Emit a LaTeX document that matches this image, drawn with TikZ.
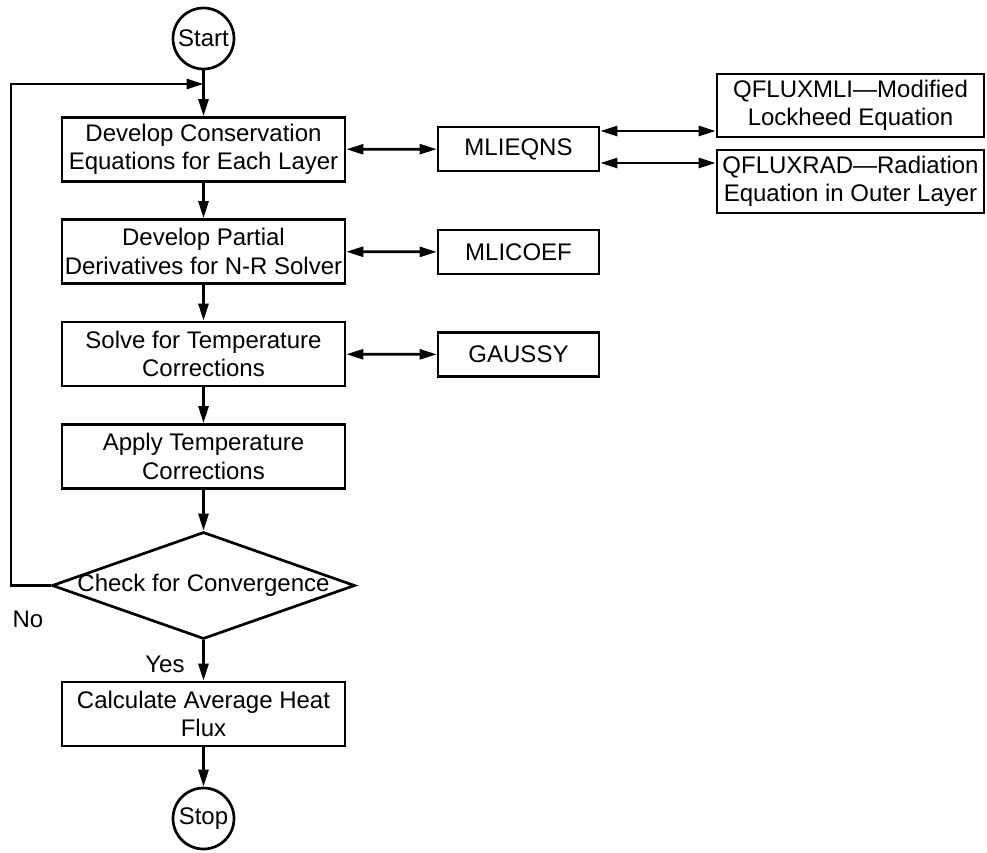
\documentclass[tikz,border=0pt]{standalone}
\usepackage{fontspec}
\setmainfont{Liberation Sans}
\usetikzlibrary{arrows.meta,shapes.geometric}
\begin{document}
\begin{tikzpicture}[x=1pt,y=-1pt,
  every node/.style={font=\fontsize{24}{28.5}\selectfont},
  lw/.style={line width=2.7pt},
  procbox/.style={draw, lw, align=center, inner sep=0pt, minimum width=283pt, minimum height=64pt},
  subbox/.style={draw, lw, align=center, inner sep=0pt, minimum width=161pt, minimum height=44pt},
  sidebox/.style={draw, lw, align=center, inner sep=0pt, minimum width=267pt, minimum height=63pt},
  terminal/.style={draw, lw, circle, inner sep=0pt, minimum size=61pt},
  decision/.style={draw, lw, diamond, inner sep=0pt, minimum width=303pt, minimum height=107pt},
  arr/.style={lw, -{Triangle[length=17pt,width=10pt]}},
  dbl/.style={lw, {Triangle[length=17pt,width=10pt]}-{Triangle[length=17pt,width=10pt]}}
]
\useasboundingbox (0,0) rectangle (987,852);

% main column
\node[terminal] (start) at (203.5,38.5) {Start};
\node[procbox] (b1) at (203.5,149.5) {Develop Conservation\\Equations for Each Layer};
\node[procbox] (b2) at (203.5,251.5) {Develop Partial\\Derivatives for N-R Solver};
\node[procbox] (b3) at (203.5,354) {Solve for Temperature\\Corrections};
\node[procbox] (b4) at (203.5,456.5) {Apply Temperature\\Corrections};
\node[decision] (chk) at (203.5,585.5) {};
\node (chktxt) at (chk.center) {Check for Convergence};
\node[procbox] (b5) at (203.5,714) {Calculate Average Heat\\Flux};
\node[terminal] (stop) at (203.5,818.5) {Stop};

% subroutines
\node[subbox] (mlieqns) at (518.5,149) {MLIEQNS};
\node[subbox] (mlicoef) at (518.5,252) {MLICOEF};
\node[subbox] (gaussy) at (518.5,354.5) {GAUSSY};
\node[sidebox] (qmli) at (850.5,105.5) {QFLUXMLI—Modified\\Lockheed Equation};
\node[sidebox] (qrad) at (850.5,181.5) {QFLUXRAD—Radiation\\Equation in Outer Layer};

% labels
\node (no) at (28,619) {No};
\node (yes) at (165,664) {Yes};

% flow
\coordinate (join) at (203.5,84);
\coordinate (lc) at (11,585.5);
\draw[arr] (start) -- (b1);
\draw[arr] (b1) -- (b2);
\draw[arr] (b2) -- (b3);
\draw[arr] (b3) -- (b4);
\draw[arr] (b4) -- (chk);
\draw[arr] (chk) -- (b5);
\draw[arr] (b5) -- (stop);
\draw[arr] (chk.west) -- (lc) |- (join);

% calls
\draw[dbl] (b1) -- (mlieqns);
\draw[dbl] (b2) -- (mlicoef);
\draw[dbl] (b3) -- (gaussy);
\draw[dbl] (mlieqns.east |- 0,131) -- (qmli.west |- 0,131);
\draw[dbl] (mlieqns.east |- 0,163) -- (qrad.west |- 0,163);
\end{tikzpicture}
\end{document}
